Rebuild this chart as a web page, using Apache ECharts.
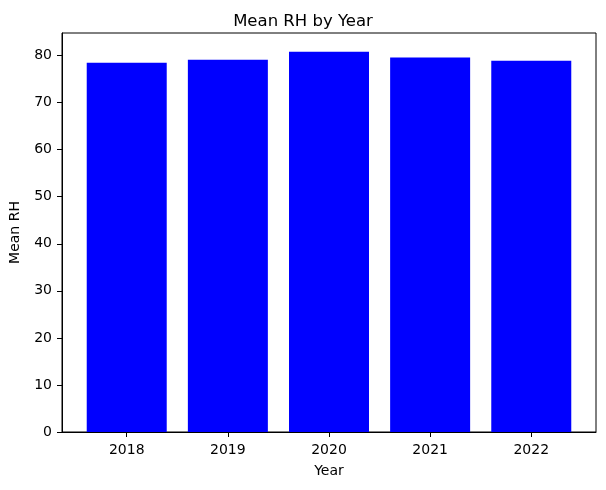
<!DOCTYPE html>
<html><head><meta charset="utf-8">
<script src="https://cdn.jsdelivr.net/npm/echarts@6/dist/echarts.min.js"></script>
<style>html,body{margin:0;padding:0;background:#fff}#c{width:606px;height:490px}</style>
</head><body><div id="c"></div>
<script>
const years = ['2018', '2019', '2020', '2021', '2022'];
const meanRH = [78.5, 79.1, 80.8, 79.6, 78.9];
const yTicks = [0, 10, 20, 30, 40, 50, 60, 70, 80];

const chart = echarts.init(document.getElementById('c'), null, {renderer: 'canvas'});
const font = 'DejaVu Sans';
const idx = years.map((_, i) => i);
chart.setOption({
  animation: false,
  backgroundColor: '#fff',
  textStyle: {fontFamily: font},
  title: {text: 'Mean RH by Year', left: 'center', top: 8,
    textStyle: {fontFamily: font, fontSize: 16.5, fontWeight: 'normal', color: '#000'}},
  grid: {left: 61, right: 10, top: 33, bottom: 58, show: true, borderColor: '#000', borderWidth: 1},
  xAxis: {
    type: 'value', min: -0.64, max: 4.64,
    name: 'Year', nameLocation: 'middle', nameGap: 32,
    nameTextStyle: {fontFamily: font, fontSize: 14, color: '#000'},
    axisLine: {show: true, onZero: false, lineStyle: {color: '#000'}},
    axisTick: {show: true, length: 5, inside: false, customValues: idx, lineStyle: {color: '#000'}},
    axisLabel: {customValues: idx, margin: 11, fontFamily: font, fontSize: 14, color: '#000',
      formatter: v => years[Math.round(v)]},
    splitLine: {show: false}
  },
  yAxis: {
    type: 'value', min: 0, max: 84.8, interval: 10,
    name: 'Mean RH', nameLocation: 'middle', nameGap: 40,
    nameTextStyle: {fontFamily: font, fontSize: 14, color: '#000'},
    axisLine: {show: true, onZero: false, lineStyle: {color: '#000'}},
    axisTick: {show: true, length: 5, customValues: yTicks, lineStyle: {color: '#000'}},
    axisLabel: {customValues: yTicks, margin: 10, fontFamily: font, fontSize: 14, color: '#000'},
    splitLine: {show: false}
  },
  series: [{
    type: 'bar',
    data: meanRH.map((v, i) => [i, v]),
    barWidth: 80,
    itemStyle: {color: '#0000ff'}
  }]
});
</script></body></html>
